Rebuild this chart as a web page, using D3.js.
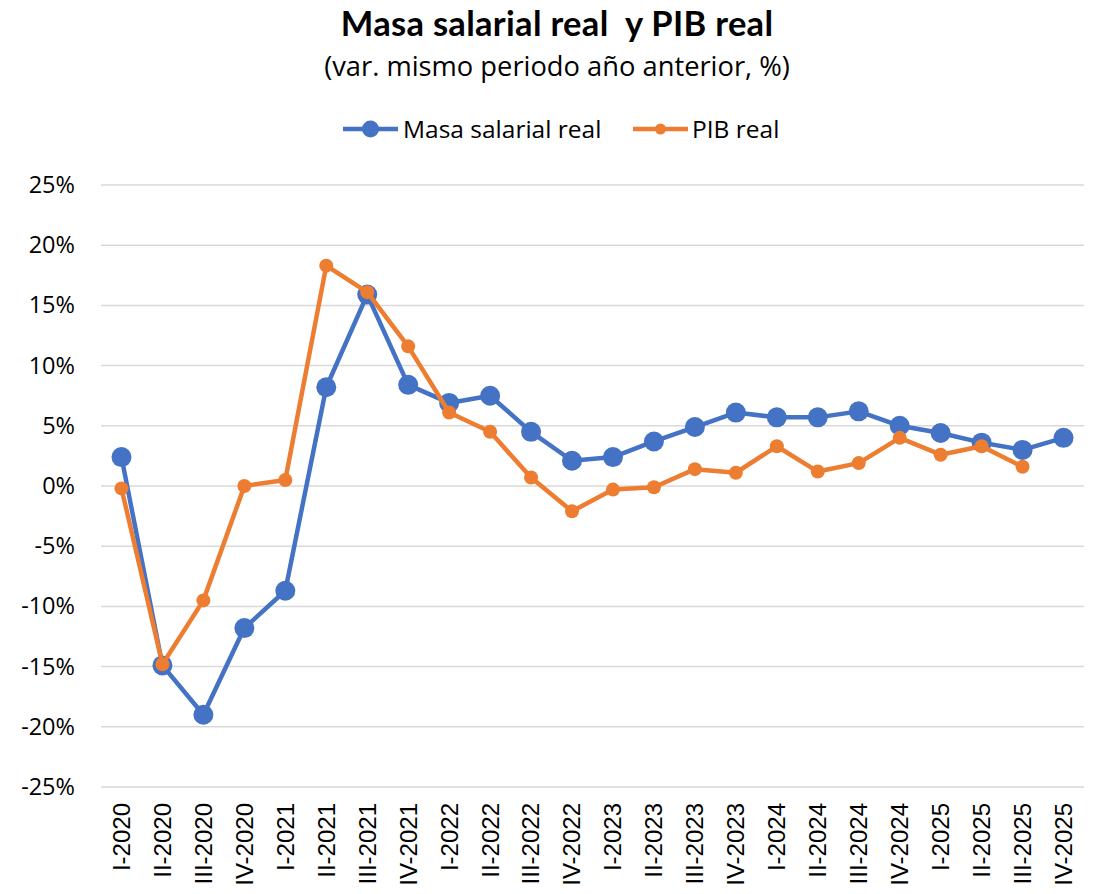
<!DOCTYPE html>
<html>
<head>
<meta charset="utf-8"/>
<title>Masa salarial real y PIB real</title>
<script src="https://d3js.org/d3.v7.min.js"></script>
<style>
    body { margin:0; background:white; }
    svg { display:block; }
</style>
</head>
<body>
<svg id="chart" width="1094" height="894"></svg>
<script>

// data
var quarters = ["I-2020","II-2020","III-2020","IV-2020",
                "I-2021","II-2021","III-2021","IV-2021",
                "I-2022","II-2022","III-2022","IV-2022",
                "I-2023","II-2023","III-2023","IV-2023",
                "I-2024","II-2024","III-2024","IV-2024",
                "I-2025","II-2025","III-2025","IV-2025"];

var masaSalarial = [2.4, -14.9, -19.0, -11.8,
                    -8.7, 8.2, 15.9, 8.4,
                    6.9, 7.5, 4.5, 2.1,
                    2.4, 3.7, 4.9, 6.1,
                    5.7, 5.7, 6.2, 5.0,
                    4.4, 3.6, 3.0, 4.0];

var pibReal = [-0.2, -14.8, -9.5, 0.0,
               0.5, 18.3, 16.1, 11.6,
               6.1, 4.5, 0.7, -2.1,
               -0.3, -0.1, 1.4, 1.1,
               3.3, 1.2, 1.9, 4.0,
               2.6, 3.3, 1.6, null];

var yTicks = [-25, -20, -15, -10, -5, 0, 5, 10, 15, 20, 25];

var series = [
    {name:"Masa salarial real", values: masaSalarial, color:"#4472C4", r:10},
    {name:"PIB real", values: pibReal, color:"#ED7D31", r:7}
];

var svg = d3.select("#chart");
var plotLeft = 101, plotRight = 1084, plotTop = 185, plotBottom = 787;

var x = d3.scaleBand().domain(quarters).range([plotLeft, plotRight]);
var y = d3.scaleLinear().domain([-25, 25]).range([plotBottom, plotTop]);

// title
svg.append("text")
    .attr("x", 557).attr("y", 36)
    .attr("text-anchor", "middle")
    .style("white-space", "pre")
    .style("font-family", "Lato, sans-serif")
    .style("font-weight", "bold")
    .style("font-size", "34.5px")
    .style("letter-spacing", "0.3px")
    .text("Masa salarial real  y PIB real");

svg.append("text")
    .attr("x", 557).attr("y", 76)
    .attr("text-anchor", "middle")
    .style("font-family", "'Open Sans', sans-serif")
    .style("font-size", "27.3px")
    .text("(var. mismo periodo año anterior, %)");

// grid
svg.append("g")
    .selectAll("line")
    .data(yTicks)
    .join("line")
    .attr("x1", plotLeft).attr("x2", plotRight)
    .attr("y1", d => y(d)).attr("y2", d => y(d))
    .attr("stroke", "#d9d9d9")
    .attr("stroke-width", 1.5);

// y axis
var yAxis = svg.append("g")
    .attr("transform", "translate(" + plotLeft + ",0)")
    .call(d3.axisLeft(y).tickValues(yTicks).tickSize(0).tickPadding(26).tickFormat(d => d + "%"));
yAxis.select(".domain").remove();
yAxis.selectAll("text")
    .style("font-family", "'Open Sans', sans-serif")
    .style("font-size", "23.5px")
    .attr("fill", "#000");

// x axis
var xAxis = svg.append("g")
    .attr("transform", "translate(0," + plotBottom + ")")
    .call(d3.axisBottom(x).tickSize(0).tickPadding(0));
xAxis.select(".domain").remove();
xAxis.selectAll("text")
    .style("font-family", "'Liberation Sans', Arial, sans-serif")
    .style("font-size", "24px")
    .attr("fill", "#000")
    .attr("text-anchor", "end")
    .attr("dy", "0.35em")
    .attr("transform", "translate(0,16) rotate(-90)")
    .attr("x", 0).attr("y", 0);

// lines
var line = d3.line()
    .defined(d => d != null)
    .x((d, i) => x(quarters[i]) + x.bandwidth() / 2)
    .y(d => y(d));

series.forEach(function(s) {
    svg.append("path")
        .datum(s.values)
        .attr("fill", "none")
        .attr("stroke", s.color)
        .attr("stroke-width", 4.5)
        .attr("stroke-linejoin", "round")
        .attr("d", line);

    svg.append("g")
        .selectAll("circle")
        .data(s.values.map((v, i) => ({v:v, q:quarters[i]})).filter(d => d.v != null))
        .join("circle")
        .attr("cx", d => x(d.q) + x.bandwidth() / 2)
        .attr("cy", d => y(d.v))
        .attr("r", s.r)
        .attr("fill", s.color);
});

// legend
var legendItems = [
    {s: series[0], x: 343, tx: 403},
    {s: series[1], x: 633, tx: 692}
];
legendItems.forEach(function(l) {
    var g = svg.append("g");
    g.append("line")
        .attr("x1", l.x).attr("x2", l.x + 55)
        .attr("y1", 129).attr("y2", 129)
        .attr("stroke", l.s.color).attr("stroke-width", 4.5);
    g.append("circle")
        .attr("cx", l.x + 27.5).attr("cy", 129)
        .attr("r", l.s.r - 1.5)
        .attr("fill", l.s.color);
    g.append("text")
        .attr("x", l.tx).attr("y", 129)
        .attr("dy", "0.35em")
        .style("font-family", "'Open Sans', sans-serif")
        .style("font-size", "24.5px")
        .text(l.s.name);
});

</script>
</body>
</html>
